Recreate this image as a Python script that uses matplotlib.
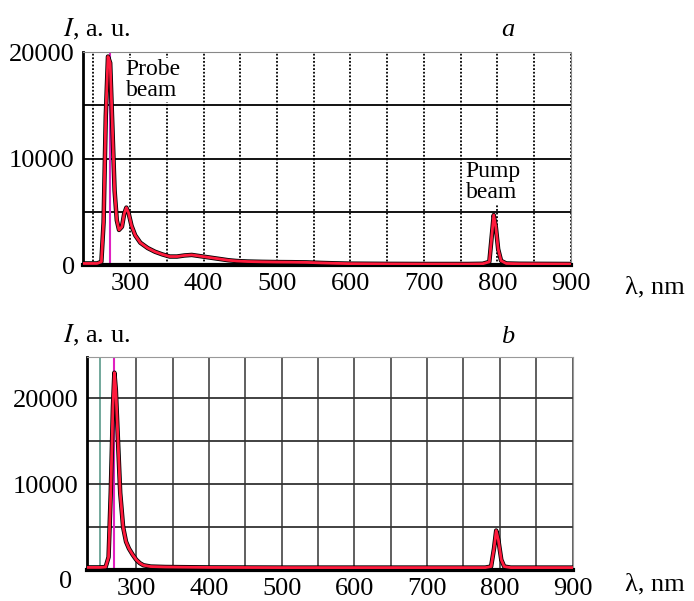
import numpy as np
import matplotlib
matplotlib.use("Agg")
import matplotlib.pyplot as plt
import matplotlib.transforms as mtransforms

plt.rcParams['font.family'] = ['Liberation Serif', 'DejaVu Serif']
plt.rcParams['mathtext.fontset'] = 'stix'

# espectro (a): haz de prueba + haz de bombeo
wl_a = [236, 255, 261, 264, 267, 270, 273, 276, 279, 282, 285, 289, 292, 295, 298,
        302, 307, 314, 324, 334, 344, 354, 364, 374, 384, 394, 404, 414, 424, 434,
        445, 460, 480, 500, 520, 540, 560, 580, 600, 650, 700, 760, 780, 789, 792,
        795, 798, 801, 805, 812, 830, 860, 900]
I_a = [150, 150, 300, 4000, 14000, 19600, 19000, 13000, 7000, 4200, 3300, 3600, 4800, 5400, 4900,
       3700, 2800, 2100, 1600, 1250, 1000, 800, 800, 900, 950, 850, 750, 650, 550, 450,
       380, 330, 300, 280, 270, 250, 200, 160, 130, 110, 100, 100, 120, 300, 2500,
       4700, 3500, 1500, 400, 150, 120, 110, 100]

# espectro (b)
wl_b = [232, 250, 258, 262, 265, 268, 270, 272, 275, 278, 282, 286, 290, 295, 300,
        305, 310, 320, 340, 400, 500, 600, 700, 780, 788, 792, 795, 798, 802, 806,
        815, 900]
I_b = [300, 300, 350, 1500, 9000, 19000, 23000, 21000, 15000, 9000, 5000, 3300, 2500, 1800, 1200,
       800, 550, 400, 350, 300, 280, 280, 280, 280, 400, 2500, 4600, 3500, 1200, 400,
       280, 280]

probe_a = 273
probe_b = 270
xticks = [300, 400, 500, 600, 700, 800, 900]

fig = plt.figure(figsize=(6.94, 6.01), dpi=100)
ax1 = fig.add_axes([0.1196, 0.559, 0.703, 0.354])
ax2 = fig.add_axes([0.125, 0.0516, 0.700, 0.354])

#grafica a
ax1.set_xlim(236, 900)
ax1.set_ylim(0, 20000)
for x in np.arange(250, 901, 50):
    ax1.axvline(x, color='black', lw=1.3, ls=(0, (1, 1)), zorder=1)
for y in [5000, 10000, 15000]:
    ax1.axhline(y, color='black', lw=1.3, zorder=1)
ax1.axvline(probe_a, color='#e020c0', lw=1.5, zorder=2)
ax1.plot(wl_a, I_a, color='black', lw=3.2, zorder=3)
ax1.plot(wl_a, I_a, color='#ff1a3c', lw=2, zorder=4)
ax1.set_yticks([0, 10000, 20000])
ax1.set_xticks(xticks)
ax1.text(294, 17400, 'Probe\nbeam', fontsize=17, va='center', linespacing=1.05,
         bbox=dict(facecolor='white', edgecolor='none', pad=0.5), zorder=5)
ax1.text(757, 7800, 'Pump\nbeam', fontsize=17, va='center', linespacing=1.05,
         bbox=dict(facecolor='white', edgecolor='none', pad=0.5), zorder=5)
ax1.spines['top'].set_color('#888888')
ax1.spines['right'].set_color('#888888')
ax1.spines['right'].set_linestyle((0, (1, 1)))
ax1.spines['top'].set_linestyle((0, (1, 1)))
ax1.spines['left'].set_linewidth(2)
ax1.spines['bottom'].set_linewidth(3)

#grafica b
ax2.set_xlim(232, 900)
ax2.set_ylim(0, 24800)
for x in np.arange(250, 901, 50):
    c = '#5a9a8a' if x == 250 else '#444444'
    ax2.axvline(x, color=c, lw=1.2, zorder=1)
for y in [5000, 10000, 15000, 20000]:
    ax2.axhline(y, color='#333333', lw=1.3, zorder=1)
ax2.axvline(probe_b, color='#e020c0', lw=1.5, zorder=2)
ax2.plot(wl_b, I_b, color='black', lw=3.2, zorder=3)
ax2.plot(wl_b, I_b, color='#ff1a3c', lw=2, zorder=4)
ax2.set_yticks([0, 10000, 20000])
ax2.set_xticks(xticks)
ax2.spines['top'].set_color('#999999')
ax2.spines['right'].set_color('#999999')
ax2.spines['left'].set_linewidth(2)
ax2.spines['bottom'].set_linewidth(3)

for ax in (ax1, ax2):
    ax.tick_params(labelsize=19, length=0, pad=6)

# el "0" de la grafica b queda un poco mas abajo
fig.canvas.draw()
lbl0 = ax2.get_yticklabels()[0]
lbl0.set_transform(lbl0.get_transform() +
                   mtransforms.ScaledTranslation(-0.06, -0.1, fig.dpi_scale_trans))

fig.text(0.091, 0.94, r'$I$, a. u.', fontsize=19)
fig.text(0.091, 0.43, r'$I$, a. u.', fontsize=19)
fig.text(0.722, 0.94, 'a', fontsize=19, style='italic')
fig.text(0.722, 0.43, 'b', fontsize=19, style='italic')
fig.text(0.90, 0.512, 'λ, nm', fontsize=19)
fig.text(0.90, 0.017, 'λ, nm', fontsize=19)

plt.savefig('out.png', dpi=100)
